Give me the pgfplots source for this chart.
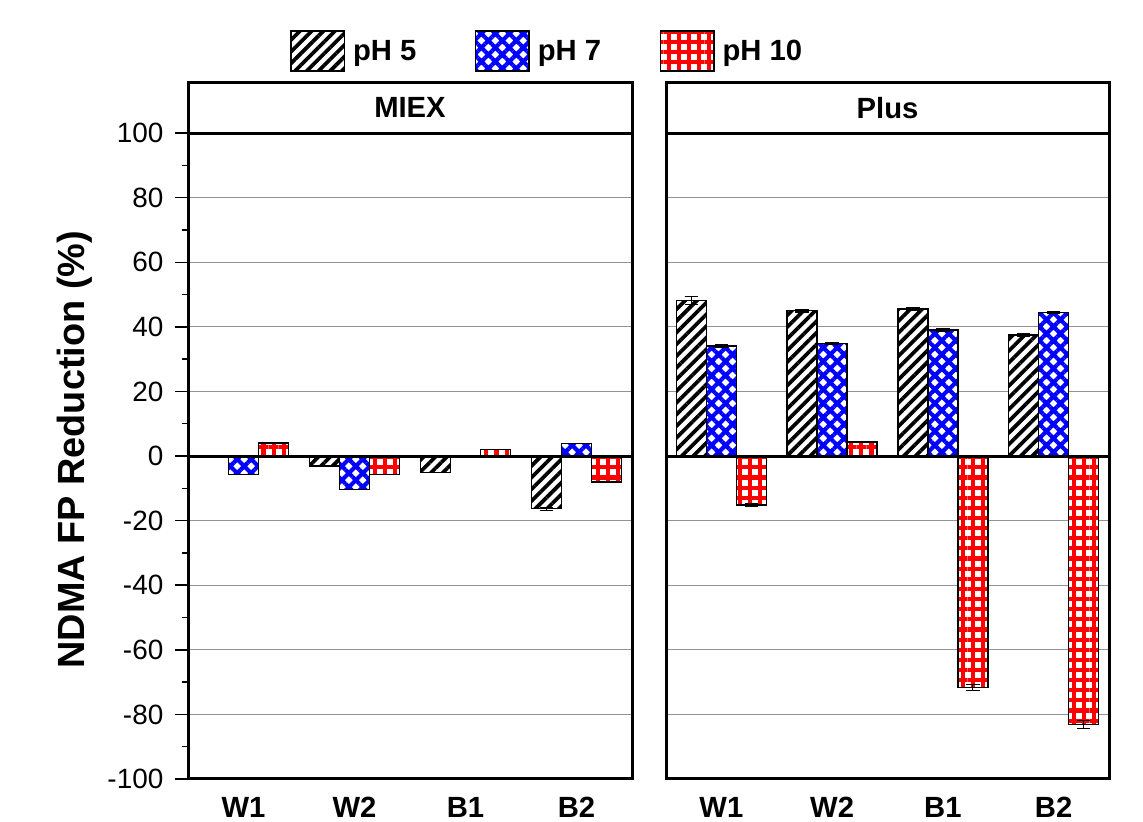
\documentclass[border=0pt]{standalone}
\usepackage{pgfplots}
\pgfplotsset{compat=1.18}
\usepackage{pgfplotstable}
\usepackage{fontspec}
\setmainfont{Liberation Sans}
\usetikzlibrary{patterns.meta}

% NDMA FP reduction (%), columns: position, mean, error
\pgfplotstableread{
x  y      e
0  -0.5   0
1  -3.1   0
2  -5.1   0
3  -16.3  0.5
}\miexfive
\pgfplotstableread{
x  y      e
0  -5.7   0
1  -10.3  0
2   0.0   0
3   3.8   0
}\miexseven
\pgfplotstableread{
x  y      e
0   4.1   0
1  -5.7   0
2   2.1   0
3  -8.0   0
}\miexten
\pgfplotstableread{
x  y      e
0  48.2   1.2
1  45.0   0.4
2  45.5   0.5
3  37.5   0.5
}\plusfive
\pgfplotstableread{
x  y      e
0  34.0   0.5
1  34.8   0.3
2  39.0   0.5
3  44.4   0.3
}\plusseven
\pgfplotstableread{
x  y      e
0  -15.1  0.4
1   4.3   0
2  -71.7  1.0
3  -83.2  1.2
}\plusten

\newcommand\tickfont{\fontsize{21}{25}\selectfont}
\newcommand\boldfont{\bfseries\fontsize{22}{26}\selectfont}

\pgfplotsset{
  phfive/.style={draw=black, line width=1.1bp, fill=white,
    postaction={pattern={Lines[angle=45,distance=6.2bp,line width=2.8bp]}, pattern color=black}},
  phseven/.style={draw=black, line width=1.1bp, fill=white,
    postaction={pattern={Hatch[angle=45,distance=7.4bp,line width=3.1bp]}, pattern color=blue}},
  phten/.style={draw=black, line width=1.1bp, fill=white,
    postaction={pattern={Hatch[angle=0,distance=7.6bp,line width=3.1bp]}, pattern color=red}},
  panel/.style={
    scale only axis,
    height=522bp,
    ybar=0pt,
    bar width=22.5bp,
    xmin=-0.5, xmax=3.5,
    ymin=-100, ymax=115.5,
    enlargelimits=false,
    axis line style={line width=2.25bp},
    tick align=outside,
    xtick={0,1,2,3},
    xticklabels={W1,W2,B1,B2},
    xtick style={draw=none},
    xticklabel style={font=\boldfont},
    ytick={-100,-80,...,100},
    ymajorgrids,
    major grid style={gray!85, line width=0.7bp},
    /pgf/number format/assume math mode=true,
    error bars/y dir=both,
    error bars/y explicit,
    error bars/error bar style={black, line width=0.8bp},
    error bars/error mark options={rotate=90, black, mark size=5bp, line width=0.8bp},
    legend image code/.code={\draw[##1] (0bp,-15bp) rectangle (40bp,15bp);},
  },
}

\begin{document}
\begin{tikzpicture}
\useasboundingbox (0bp,0bp) rectangle (857.25bp,616.5bp);

\begin{axis}[panel,
  at={(141bp,32.25bp)}, anchor=south west,
  width=333bp,
  ytick pos=left,
  minor ytick={-90,-70,...,90},
  ytick style={black, line width=1.1bp},
  major tick length=10bp,
  minor tick length=4.5bp,
  yticklabel style={font=\tickfont, xshift=-5bp},
  ylabel={NDMA FP Reduction (\%)},
  ylabel style={font=\bfseries\fontsize{28.5}{32}\selectfont, at={(axis description cs:-0.255,0.473)}, anchor=center},
  legend columns=3,
  legend style={at={(axis description cs:0.2297,1.046)}, anchor=west,
    draw=none, fill=none, inner sep=0pt, font=\boldfont,
    /tikz/every odd column/.append style={column sep=4bp},
    /tikz/every even column/.append style={column sep=42bp}},
]
\addplot[phfive] table[x=x, y=y, y error=e] {\miexfive};
\addplot[phseven] table[x=x, y=y, y error=e] {\miexseven};
\addplot[phten] table[x=x, y=y, y error=e] {\miexten};
\legend{pH 5, pH 7, pH 10}
\draw[black, line width=2.25bp] (-0.5,0) -- (3.5,0);
\draw[black, line width=2.25bp] (-0.5,100) -- (3.5,100);
\node[font=\boldfont] at (1.5,107.8) {MIEX};
\end{axis}

\begin{axis}[panel,
  at={(499.5bp,32.25bp)}, anchor=south west,
  width=332.25bp,
  yticklabels={},
  ytick style={draw=none},
  major tick length=10bp,
]
\addplot[phfive] table[x=x, y=y, y error=e] {\plusfive};
\addplot[phseven] table[x=x, y=y, y error=e] {\plusseven};
\addplot[phten] table[x=x, y=y, y error=e] {\plusten};
\draw[black, line width=2.25bp] (-0.5,0) -- (3.5,0);
\draw[black, line width=2.25bp] (-0.5,100) -- (3.5,100);
\node[font=\boldfont] at (1.5,107.8) {Plus};
\end{axis}
\end{tikzpicture}
\end{document}
